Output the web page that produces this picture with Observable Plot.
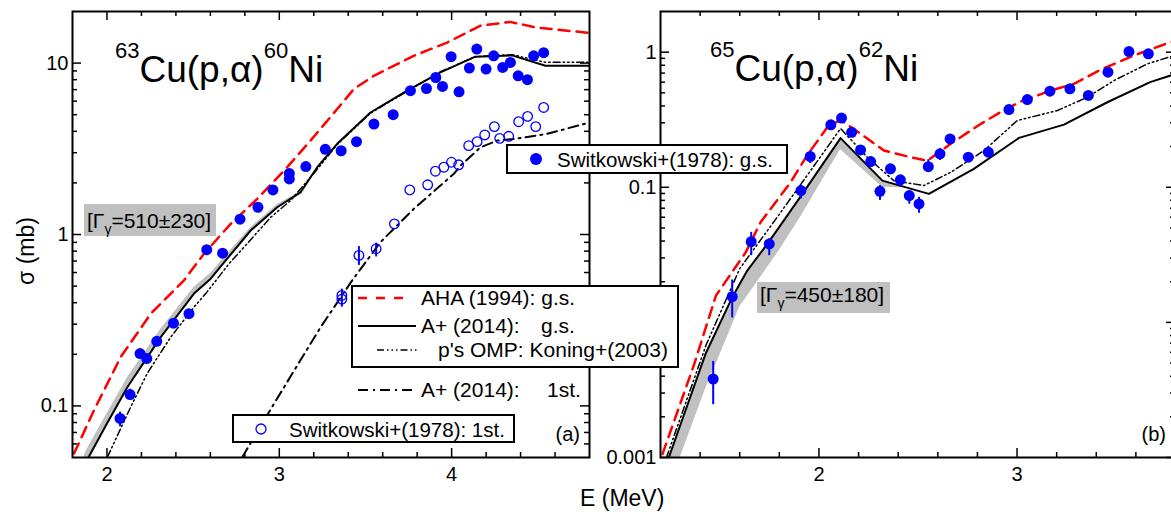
<!DOCTYPE html>
<html><head><meta charset="utf-8">
<script src="https://cdn.jsdelivr.net/npm/d3@7"></script>
<script src="https://cdn.jsdelivr.net/npm/@observablehq/plot@0.6"></script>
<style>
html,body{margin:0;padding:0;background:#fff;}
#wrap{position:relative;width:1171px;height:512px;overflow:hidden;font-family:"Liberation Sans",Arial,sans-serif;}
#wrap > svg{position:absolute;top:0;}
</style></head><body><div id="wrap"></div>
<script>
// ---------- Panel (a): 63Cu(p,a)60Ni ----------
const gsA_E = [2.076,2.134,2.192,2.231,2.289,2.386,2.476,2.579,2.671,2.772,2.876,2.963,3.058,3.058,3.154,3.267,3.359,3.448,3.549,3.661,3.761,3.854,3.908,3.947,3.997,4.043,4.103,4.146,4.2,4.244,4.296,4.341,4.386,4.44,4.476,4.534];
const gsA_S = [0.0845,0.1165,0.202,0.189,0.238,0.304,0.345,0.815,0.778,1.228,1.442,1.82,2.11,2.27,2.49,3.14,3.08,3.48,4.41,5.0,6.9,7.11,8.24,7.31,10.9,6.8,9.35,12.07,9.23,11.03,9.43,10.09,8.43,8.0,11.03,11.5];
const errA_E  = [2.076,2.134,2.192];
const errA_lo = [0.0756,0.108,0.19];
const errA_hi = [0.092,0.125,0.212];

const stA_E = [3.363,3.363,3.462,3.562,3.668,3.757,3.861,3.906,3.955,3.999,4.041,4.099,4.148,4.192,4.248,4.279,4.331,4.389,4.441,4.488,4.534];
const stA_S = [0.441,0.42,0.755,0.826,1.154,1.82,1.95,2.34,2.47,2.64,2.55,3.30,3.48,3.81,4.26,3.64,3.74,4.55,4.89,4.26,5.51];
const errStA_E  = [3.363,3.462,3.562];
const errStA_lo = [0.377,0.66,0.74];
const errStA_hi = [0.48,0.85,0.89];

const ahaA_E = [1.809,1.925,2.08,2.254,2.447,2.563,2.718,2.872,3.046,3.181,3.336,3.433,3.548,3.78,3.974,4.165,4.339,4.496,4.8];
const ahaA_S = [0.0528,0.0944,0.193,0.345,0.54,0.772,1.154,1.614,2.47,3.53,5.4,7.06,8.43,11.03,13.18,16.5,17.4,16.1,15.0];

const apA_E = [1.88,1.894,2.0,2.119,2.312,2.505,2.602,2.689,2.834,2.988,3.123,3.22,3.336,3.529,3.742,3.935,4.138,4.351,4.544,4.8];
const apA_S = [0.0475,0.0504,0.079,0.129,0.252,0.452,0.552,0.706,1.055,1.442,1.76,2.47,3.38,5.15,6.9,8.82,10.9,11.1,9.64,9.64];

const ompA_E = [2.003,2.138,2.234,2.37,2.505,2.573,2.708,2.795,2.95,3.066,3.22,3.336,3.529,3.742,3.935,4.138,4.351,4.544,4.8];
const ompA_S = [0.0504,0.0987,0.155,0.252,0.377,0.452,0.675,0.843,1.26,1.58,2.4,3.35,5.1,6.85,8.9,10.9,11.2,10.1,10.1];

const ap1A_E = [2.786,2.969,3.24,3.423,3.587,3.78,3.935,4.013,4.051,4.167,4.264,4.36,4.552,4.8];
const ap1A_S = [0.0504,0.103,0.288,0.54,0.902,1.41,1.93,2.26,2.52,3.22,3.53,3.61,3.86,4.5];

const bandA_E  = [1.87,1.894,2.0,2.119,2.312,2.505,2.602,2.689,2.834,2.988,3.123];
const bandA_lo = [0.043,0.048,0.076,0.125,0.246,0.444,0.544,0.698,1.045,1.43,1.75];
const bandA_hi = [0.052,0.058,0.09,0.146,0.28,0.49,0.595,0.75,1.1,1.49,1.78];

// ---------- Panel (b): 65Cu(p,a)62Ni ----------
const gsB_E  = [1.466,1.562,1.658,1.749,1.909,1.956,2.06,2.114,2.165,2.21,2.261,2.308,2.361,2.411,2.456,2.505,2.552,2.611,2.662,2.754,2.855,2.959,3.052,3.166,3.267,3.36,3.459,3.565,3.663];
const gsB_S  = [0.00381,0.0155,0.0396,0.0381,0.0946,0.169,0.29,0.325,0.255,0.189,0.155,0.0934,0.137,0.1135,0.0868,0.0753,0.142,0.177,0.228,0.167,0.182,0.376,0.446,0.514,0.536,0.478,0.711,1.01,0.973];
const errB_E  = [1.466,1.562,1.658,1.749,1.909,1.956,2.21,2.261,2.308,2.361,2.411,2.456,2.505,2.552,2.611,2.754];
const errB_lo = [0.00246,0.0108,0.0312,0.0312,0.082,0.15,0.175,0.14,0.08,0.124,0.1,0.075,0.0643,0.13,0.158,0.158];
const errB_hi = [0.00514,0.0206,0.0464,0.0416,0.103,0.187,0.2,0.168,0.103,0.148,0.122,0.094,0.0843,0.16,0.193,0.176];

const ahaB_E = [1.21,1.37,1.48,1.63,1.705,1.857,1.94,2.042,2.109,2.21,2.328,2.463,2.547,2.665,2.818,2.917,3.018,3.17,3.287,3.422,3.59,3.742,3.8];
const ahaB_S = [0.00106,0.0049,0.0158,0.033,0.055,0.109,0.172,0.278,0.316,0.249,0.187,0.167,0.157,0.21,0.295,0.36,0.431,0.52,0.583,0.741,0.945,1.14,1.22];

const apB_E = [1.242,1.427,1.562,1.638,1.739,1.907,2.109,2.32,2.555,2.782,3.01,3.237,3.456,3.672,3.8];
const apB_S = [0.001,0.00583,0.0153,0.0242,0.038,0.0853,0.231,0.112,0.0894,0.137,0.232,0.291,0.426,0.6,0.69];

const ompB_E = [1.23,1.43,1.6,1.789,1.958,2.109,2.244,2.378,2.53,2.665,2.833,3.001,3.204,3.355,3.49,3.658,3.8];
const ompB_S = [0.001,0.0068,0.025,0.06,0.133,0.272,0.167,0.112,0.103,0.129,0.187,0.312,0.37,0.464,0.617,0.82,0.95];

const bandB_E  = [1.242,1.30,1.427,1.47,1.6,1.8,1.907,2.109,2.32,2.42];
const bandB_hi = [0.001,0.0016,0.00583,0.0078,0.0195,0.05,0.0853,0.231,0.112,0.103];
const bandB_lo = [0.0006,0.001,0.0032,0.0045,0.013,0.034,0.06,0.19,0.1,0.099];

// ---------- tick values and labels ----------
const xMajorA = [2,3,4];
const xMinorA = [2.2,2.4,2.6,2.8,3.2,3.4,3.6,3.8,4.2,4.4,4.6];
const yMajorA = [0.1,1,10];
const yMinorA = [0.06,0.07,0.08,0.09,0.2,0.3,0.4,0.5,0.6,0.7,0.8,0.9,2,3,4,5,6,7,8,9];
const xMajorB = [2,3];
const xMinorB = [1.4,1.6,1.8,2.2,2.4,2.6,2.8,3.2,3.4,3.6];
const yMajorB = [0.001,0.01,0.1,1];
const yMinorB = [0.002,0.003,0.004,0.005,0.006,0.007,0.008,0.009,0.02,0.03,0.04,0.05,0.06,0.07,0.08,0.09,0.2,0.3,0.4,0.5,0.6,0.7,0.8,0.9];

const FONT = '"Liberation Sans", Arial, sans-serif';
const BLUE = "#0000ff", RED = "#ff0000", GRAY = "#c0c0c0";
const H = 512, MT = 11, MB = 55, innerH = H - MT - MB;

const rows = (E, S) => E.map((e, i) => ({E: e, s: S[i]}));
const errRows = (E, lo, hi) => E.map((e, i) => ({E: e, lo: lo[i], hi: hi[i]}));
const bandRows = (E, lo, hi) => E.map((e, i) => ({E: e, lo: lo[i], hi: hi[i]}));

function panel({left, width, ml, mr, xDomain, yDomain, xMajor, xMinor, yMajor, yMinor, band, aha, ap, omp, ap1, gs, gsErr, st, stErr}) {
  const innerW = width - ml - mr;
  const marks = [
    Plot.areaY(band, {x: "E", y1: "lo", y2: "hi", fill: GRAY, clip: true}),
    Plot.line(aha, {x: "E", y: "s", stroke: RED, strokeWidth: 2.5, strokeDasharray: "11,7", clip: true}),
    Plot.line(omp, {x: "E", y: "s", stroke: "black", strokeWidth: 1.5, strokeDasharray: "7,3,1.5,3,1.5,3,1.5,3", clip: true}),
    Plot.line(ap, {x: "E", y: "s", stroke: "black", strokeWidth: 2, clip: true}),
  ];
  if (ap1) marks.push(Plot.line(ap1, {x: "E", y: "s", stroke: "black", strokeWidth: 2, strokeDasharray: "10,5,2,5", clip: true}));
  if (stErr) marks.push(Plot.ruleX(stErr, {x: "E", y1: "lo", y2: "hi", stroke: BLUE, strokeWidth: 2, clip: true}));
  if (st) marks.push(Plot.dot(st, {x: "E", y: "s", r: 4.8, stroke: BLUE, strokeWidth: 1.3, fill: "none", clip: true}));
  marks.push(Plot.ruleX(gsErr, {x: "E", y1: "lo", y2: "hi", stroke: BLUE, strokeWidth: 2, clip: true}));
  marks.push(Plot.dot(gs, {x: "E", y: "s", r: 5.5, fill: BLUE, stroke: "none", clip: true}));
  // inward ticks on four sides
  const tk = {stroke: "black", strokeWidth: 1.5};
  marks.push(
    Plot.tickX(xMajor, {x: d => d, insetTop: innerH - 9, ...tk}),
    Plot.tickX(xMajor, {x: d => d, insetBottom: innerH - 9, ...tk}),
    Plot.tickX(xMinor, {x: d => d, insetTop: innerH - 5, ...tk}),
    Plot.tickX(xMinor, {x: d => d, insetBottom: innerH - 5, ...tk}),
    Plot.tickY(yMajor, {y: d => d, insetRight: innerW - 9, ...tk}),
    Plot.tickY(yMajor, {y: d => d, insetLeft: innerW - 9, ...tk}),
    Plot.tickY(yMinor, {y: d => d, insetRight: innerW - 5, ...tk}),
    Plot.tickY(yMinor, {y: d => d, insetLeft: innerW - 5, ...tk}),
    Plot.frame({stroke: "black", strokeWidth: 2}),
    Plot.axisX(xMajor, {tickSize: 0, tickPadding: 9, fontSize: 20, label: null, tickFormat: d => String(d)}),
    Plot.axisY(yMajor, {tickSize: 0, tickPadding: 4, fontSize: 20, label: null, tickFormat: d => String(d)})
  );
  const svg = Plot.plot({
    width, height: H, marginLeft: ml, marginRight: mr, marginTop: MT, marginBottom: MB,
    style: {background: "transparent", maxWidth: "none", fontFamily: FONT, fontSize: "20px", color: "black"},
    x: {domain: xDomain},
    y: {type: "log", domain: yDomain},
    marks
  });
  svg.style.left = left + "px";
  document.getElementById("wrap").appendChild(svg);
}

panel({left: 0, width: 600, ml: 72, mr: 11, xDomain: [1.8, 4.8], yDomain: [0.05, 20],
  xMajor: xMajorA, xMinor: xMinorA, yMajor: yMajorA, yMinor: yMinorA,
  band: bandRows(bandA_E, bandA_lo, bandA_hi), aha: rows(ahaA_E, ahaA_S), ap: rows(apA_E, apA_S),
  omp: rows(ompA_E, ompA_S), ap1: rows(ap1A_E, ap1A_S), gs: rows(gsA_E, gsA_S),
  gsErr: errRows(errA_E, errA_lo, errA_hi), st: rows(stA_E, stA_S), stErr: errRows(errStA_E, errStA_lo, errStA_hi)});

panel({left: 590, width: 595, ml: 70, mr: 10, xDomain: [1.2, 3.8], yDomain: [0.001, 2],
  xMajor: xMajorB, xMinor: xMinorB, yMajor: yMajorB, yMinor: yMinorB,
  band: bandRows(bandB_E, bandB_lo, bandB_hi), aha: rows(ahaB_E, ahaB_S), ap: rows(apB_E, apB_S),
  omp: rows(ompB_E, ompB_S), ap1: null, gs: rows(gsB_E, gsB_S), gsErr: errRows(errB_E, errB_lo, errB_hi),
  st: null, stErr: null});

// ---------- overlay: titles, axis titles, legends, notes ----------
const ov = d3.select("#wrap").append("svg")
  .attr("width", 1171).attr("height", 512)
  .style("position", "absolute").style("left", "0px").style("top", "0px")
  .style("font-family", FONT);

function title(x, y, a, b) {
  const t = ov.append("text").attr("x", x).attr("y", y).attr("font-size", 37);
  t.append("tspan").attr("font-size", 22).attr("dy", -24).text(a);
  t.append("tspan").attr("dy", 24).text("Cu(p,α)");
  t.append("tspan").attr("font-size", 22).attr("dy", -24).text(b);
  t.append("tspan").attr("dy", 24).text("Ni");
}
title(115, 82, "63", "60");
title(710, 81, "65", "62");

ov.append("text").attr("transform", "translate(34,251) rotate(-90)").attr("text-anchor", "middle")
  .attr("font-size", 23).text("σ (mb)");
ov.append("text").attr("x", 580).attr("y", 506).attr("font-size", 23).text("E (MeV)");

ov.append("text").attr("x", 580).attr("y", 441).attr("text-anchor", "end").attr("font-size", 20).text("(a)");
ov.append("text").attr("x", 1166).attr("y", 441).attr("text-anchor", "end").attr("font-size", 20).text("(b)");

function gamma(x, y, w, h, tx, ty, val, err) {
  ov.append("rect").attr("x", x).attr("y", y).attr("width", w).attr("height", h).attr("fill", GRAY);
  const t = ov.append("text").attr("x", tx).attr("y", ty).attr("font-size", 21);
  t.append("tspan").text("[Γ");
  t.append("tspan").attr("font-size", 14).attr("dy", 6).text("γ");
  t.append("tspan").attr("dy", -6).text("=" + val + "±" + err + "]");
}
gamma(84, 204, 132, 32, 87, 228, "510", "230");
gamma(757, 282, 133, 31, 760, 302, "450", "180");

// legend: filled points
ov.append("rect").attr("x", 507).attr("y", 145).attr("width", 280).attr("height", 28)
  .attr("fill", "white").attr("stroke", "black").attr("stroke-width", 2);
ov.append("circle").attr("cx", 536).attr("cy", 159).attr("r", 6).attr("fill", BLUE);
ov.append("text").attr("x", 557).attr("y", 167).attr("font-size", 20.5).text("Switkowski+(1978): g.s.");

// legend: curves
ov.append("rect").attr("x", 352).attr("y", 286).attr("width", 326).attr("height", 81)
  .attr("fill", "white").attr("stroke", "black").attr("stroke-width", 2);
const legLine = (x1, x2, y, stroke, w, dash) => ov.append("line").attr("x1", x1).attr("x2", x2).attr("y1", y).attr("y2", y)
  .attr("stroke", stroke).attr("stroke-width", w).attr("stroke-dasharray", dash);
const legText = (x, y, s) => ov.append("text").attr("x", x).attr("y", y).attr("font-size", 21).text(s);
legLine(358, 408, 298, RED, 2.5, "9,9");
legText(421, 305, "AHA (1994): g.s.");
legLine(358, 416, 326, "black", 2, null);
legText(421, 333, "A+ (2014):");
legText(541, 333, "g.s.");
legLine(377, 418, 350, "black", 1.5, "7,3,1.5,3,1.5,3,1.5,3");
legText(438, 357, "p's OMP: Koning+(2003)");
legLine(358, 416, 390, "black", 2, "10,5,2,5");
legText(421, 397, "A+ (2014):");
legText(547, 397, "1st.");

// legend: open points
ov.append("rect").attr("x", 233).attr("y", 415).attr("width", 281).attr("height", 27)
  .attr("fill", "white").attr("stroke", "black").attr("stroke-width", 2);
ov.append("circle").attr("cx", 261).attr("cy", 429).attr("r", 5).attr("fill", "none").attr("stroke", BLUE).attr("stroke-width", 1.3);
ov.append("text").attr("x", 289).attr("y", 437).attr("font-size", 20.5).text("Switkowski+(1978): 1st.");
</script></body></html>
